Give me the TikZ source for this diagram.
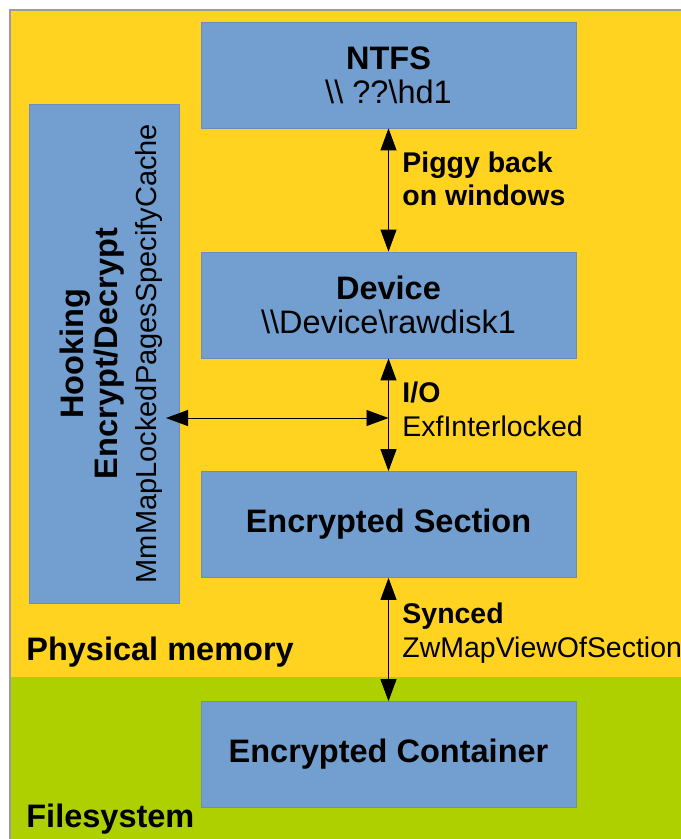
\documentclass[tikz,border=0pt]{standalone}
\usepackage{fontspec}
\setmainfont{Liberation Sans}
\usepackage{tikz}
\usetikzlibrary{positioning, arrows.meta}
\definecolor{memyellow}{HTML}{FFD320}
\definecolor{fsgreen}{HTML}{AECF00}
\definecolor{boxblue}{HTML}{729FCF}
\definecolor{boxedge}{HTML}{6A8DBC}
\definecolor{framegray}{HTML}{9C9C9C}
\newcommand{\boxfont}{\fontsize{18.5}{19.5}\selectfont}
\newcommand{\labfont}{\fontsize{16.2}{19.2}\selectfont}
\tikzset{blockbox/.style={draw=boxedge, line width=0.4pt, fill=boxblue, minimum width=7.5cm, minimum height=2.12cm, inner sep=0pt, align=center, font=\boxfont}}
\tikzset{hookbox/.style={blockbox, rotate=90, minimum width=9.98cm, minimum height=3cm}}
\tikzset{arr/.style={draw, {Triangle[length=4.4mm,width=3.2mm]}-{Triangle[length=4.4mm,width=3.2mm]}, line width=0.5pt}}
\tikzset{lab/.style={inner sep=0pt, align=left, font=\labfont}}
\tikzset{regionlab/.style={inner sep=0pt, anchor=base west, font=\boxfont\bfseries}}
\begin{document}
\begin{tikzpicture}[x=0.2mm, y=-0.2mm]
                \useasboundingbox (0,0) rectangle (681,839);
                %
                \fill[memyellow] (10,10) rectangle (681,677);
                \fill[fsgreen] (10,677) rectangle (681,839);
                \draw[framegray, line width=0.6pt] (681,10) -- (10,10) -- (10,839);
                %
                \node[blockbox] (ntfs) at (388.5,75) {\textbf{NTFS}\\\textbackslash\textbackslash\ ??\textbackslash hd1};
                \node[blockbox] (dev) at (388.5,305) {\textbf{Device}\\\textbackslash\textbackslash Device\textbackslash rawdisk1};
                \node[blockbox] (sect) at (388.5,524.5) {\textbf{Encrypted Section}};
                \node[blockbox] (cont) at (388.5,754.5) {\textbf{Encrypted Container}};
                \node[hookbox] (hook) at (104,353.5) {\rule{0pt}{7.6mm}\textbf{Hooking}\\\textbf{Encrypt/Decrypt}\\[3pt]{\fontsize{16.5}{20}\selectfont MmMapLockedPagesSpecifyCache}};
                %
                \node[regionlab] (physlab) at (26,660) {Physical memory};
                \node[regionlab] (fslab) at (26,827) {Filesystem};
                %
                \draw[arr] (ntfs) to
                    node[lab, pos=0.41, right=2.7mm]{\textbf{Piggy back}\\\textbf{on windows}}
                    (dev);
                \draw[arr] (dev) to
                    node[lab, pos=0.45, right=2.7mm]{\textbf{I/O}\\ExfInterlocked}
                    (sect);
                \draw[arr] (sect) to
                    node[lab, pos=0.45, right=2.7mm]{\textbf{Synced}\\ZwMapViewOfSection}
                    (cont);
                %
                \coordinate (iomid) at (388.5,418);
                \coordinate (hookin) at (166,418);
                \draw[arr] (hookin) to (iomid);
                %
            \end{tikzpicture}
\end{document}
